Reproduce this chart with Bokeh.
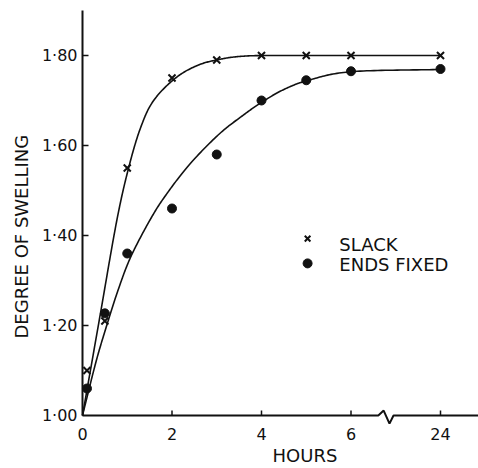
import numpy as np
from bokeh.plotting import figure
from bokeh.models import Range1d, FixedTicker, Title
from bokeh.embed import file_html
from bokeh.resources import INLINE

# Measured swelling of fibres against time
hours = [0.1, 0.5, 1, 2, 3, 4, 5, 6, 24]
slack = [1.10, 1.21, 1.55, 1.75, 1.79, 1.80, 1.80, 1.80, 1.80]
ends_fixed = [1.06, 1.227, 1.36, 1.46, 1.58, 1.70, 1.745, 1.765, 1.77]

# Hand-drawn smooth curves through each set of points
slack_curve_h = [0, 0.38, 0.76, 1.03, 1.30, 1.59, 2.08, 2.57, 3.04, 3.53, 4.2, 6, 24]
slack_curve_v = [1.00, 1.215, 1.43, 1.55, 1.64, 1.70, 1.75, 1.778, 1.791, 1.798, 1.80, 1.80, 1.80]
fixed_curve_h = [0, 0.29, 0.51, 0.80, 1.09, 1.54, 1.90, 2.41, 3.05, 3.60, 4.02, 4.49, 5.05, 6.06, 24]
fixed_curve_v = [1.00, 1.115, 1.19, 1.28, 1.355, 1.44, 1.495, 1.56, 1.625, 1.668, 1.697, 1.724, 1.745, 1.764, 1.769]

x_ticks = [0, 2, 4, 6, 24]
y_ticks = [1.00, 1.20, 1.40, 1.60, 1.80]


def hpos(h):
    """Broken time axis: 0-6 h linear, 24 h placed two units after 6."""
    h = np.asarray(h, dtype=float)
    return np.where(h <= 6, h, 6 + (h - 6) / 9.0)


def smooth(xs, ys, n=24):
    """Catmull-Rom spline through the given points."""
    xs = np.asarray(xs, float)
    ys = np.asarray(ys, float)
    px = np.concatenate([[2 * xs[0] - xs[1]], xs, [2 * xs[-1] - xs[-2]]])
    py = np.concatenate([[2 * ys[0] - ys[1]], ys, [2 * ys[-1] - ys[-2]]])
    ox, oy = [], []
    t = np.linspace(0, 1, n, endpoint=False)
    for i in range(1, len(px) - 2):
        for arr, out in ((px, ox), (py, oy)):
            p0, p1, p2, p3 = arr[i - 1], arr[i], arr[i + 1], arr[i + 2]
            out.extend(0.5 * ((2 * p1) + (-p0 + p2) * t
                              + (2 * p0 - 5 * p1 + 4 * p2 - p3) * t ** 2
                              + (-p0 + 3 * p1 - 3 * p2 + p3) * t ** 3))
    ox.append(xs[-1])
    oy.append(ys[-1])
    return np.array(ox), np.array(oy)


FONT = "DejaVu Sans"
INK = "#111111"

p = figure(width=478, height=468, output_backend="svg", toolbar_location=None,
           x_range=Range1d(-2 / 44.75, 396 / 44.75),
           y_range=Range1d(1 - 9 / 450, 1 + 407 / 450),
           min_border_left=80, min_border_right=0, min_border_top=8, min_border_bottom=44)
p.outline_line_color = None
p.grid.grid_line_color = None
p.background_fill_color = "white"
p.border_fill_color = "white"

# Axes: tick labels only, lines and ticks are drawn below as glyphs
for ax in (p.xaxis[0], p.yaxis[0]):
    ax.axis_line_color = None
    ax.major_tick_line_color = None
    ax.minor_tick_line_color = None
    ax.major_tick_in = 0
    ax.major_tick_out = 0
    ax.major_label_text_font = FONT
    ax.major_label_text_font_size = "16px"
    ax.major_label_text_color = INK

xt = [float(v) for v in hpos(x_ticks)]
p.xaxis[0].ticker = FixedTicker(ticks=xt)
p.xaxis[0].major_label_overrides = {v: str(h) for v, h in zip(xt, x_ticks)}
p.xaxis[0].major_label_standoff = 3

p.yaxis[0].ticker = FixedTicker(ticks=y_ticks)
p.yaxis[0].major_label_overrides = {v: f"{v:.2f}".replace(".", "·") for v in y_ticks}
p.yaxis[0].major_label_standoff = 3

# Axis titles
p.add_layout(Title(text="HOURS", align="left", offset=192, standoff=0,
                   text_font=FONT, text_font_size="18px", text_font_style="normal",
                   text_color=INK), "below")
p.add_layout(Title(text="DEGREE OF SWELLING", align="left", offset=86, standoff=14,
                   text_font=FONT, text_font_size="18px", text_font_style="normal",
                   text_color=INK), "left")

# Axis lines, with a break mark between 6 and 24 hours
p.line([0, 0], [1.0, 1.9], line_color=INK, line_width=2)
p.line([0, 6.61, 6.73, 6.86, 6.95, 8.85],
       [1.0, 1.0, 1.011, 0.982, 1.0, 1.0], line_color=INK, line_width=2)
# Inward ticks
p.segment(x0=xt[1:], y0=[1.0] * 4, x1=xt[1:], y1=[1.0 + 5 / 450] * 4,
          line_color=INK, line_width=1.5)
p.segment(x0=[0] * 4, y0=y_ticks[1:], x1=[6 / 44.75] * 4, y1=y_ticks[1:],
          line_color=INK, line_width=1.5)

# Curves
sx, sy = smooth(hpos(slack_curve_h), slack_curve_v)
p.line(sx, sy, line_color=INK, line_width=1.6)
fx, fy = smooth(hpos(fixed_curve_h), fixed_curve_v)
p.line(fx, fy, line_color=INK, line_width=1.6)

# Points
p.scatter(hpos(hours), slack, marker="x", size=10, line_color=INK, line_width=2)
p.scatter(hpos(hours), ends_fixed, marker="circle", size=9, fill_color=INK, line_color=INK)

# Key
p.scatter([5.03], [1.393], marker="x", size=8, line_color=INK, line_width=2)
p.scatter([5.03], [1.338], marker="circle", size=9, fill_color=INK, line_color=INK)
p.text([5.74, 5.74], [1.381, 1.3356], text=["SLACK", "ENDS FIXED"],
       text_font={"value": FONT}, text_font_size="18px", text_color=INK,
       text_baseline="middle", text_align="left")

open("out.html", "w").write(file_html(p, INLINE))
